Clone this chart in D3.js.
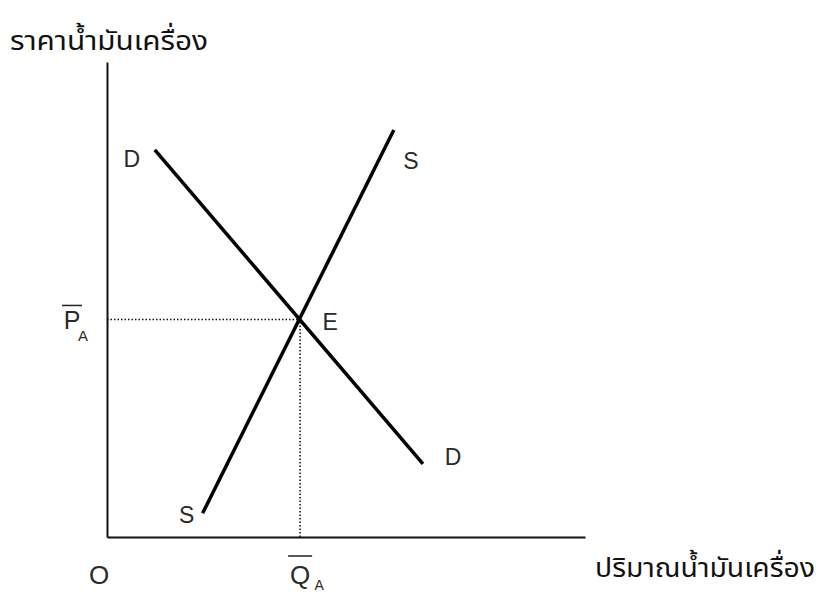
<!DOCTYPE html>
<html lang="th">
<head>
  <meta charset="UTF-8">
  <title>อุปสงค์และอุปทานน้ำมันเครื่อง</title>
  <script src="https://d3js.org/d3.v7.min.js"></script>
  <style>
    body {
      margin: 0;
      background: #fff;
    }
    svg text {
      font-family: "Liberation Sans", Arial, sans-serif;
      fill: #2a2a2a;
    }
    .thai {
      font-family: "Noto Sans Thai", "Loma", "Garuda", "Noto Sans", sans-serif;
      fill: #111;
    }
  </style>
</head>
<body>
  <div id="chart"></div>
  <script>
    // curve endpoints in (quantity, price) units
    const demand = [[1.0, 8.15], [6.61, 1.54]];
    const supply = [[2.0, 0.5], [6.0, 8.57]];
    const equilibrium = [4.04, 4.58];

    const curveLabels = [
      { text: "D", at: [1.0, 8.15], dx: -23, dy: 17 },
      { text: "D", at: [6.61, 1.54], dx: 30, dy: 1 },
      { text: "S", at: [2.0, 0.5], dx: -16, dy: 10 },
      { text: "S", at: [6.0, 8.57], dx: 17, dy: 39 },
      { text: "E", at: equilibrium, dx: 30, dy: 11 }
    ];

    const yTitle = "ราคาน้ำมันเครื่อง";
    const xTitle = "ปริมาณน้ำมันเครื่อง";

    const width = 826;
    const height = 592;
    const margin = { top: 62, right: 241, bottom: 55, left: 107 };

    const x = d3.scaleLinear()
      .domain([0, 10])
      .range([margin.left, width - margin.right]);
    const y = d3.scaleLinear()
      .domain([0, 10])
      .range([height - margin.bottom, margin.top]);

    const svg = d3.select("#chart")
      .append("svg")
      .attr("width", width)
      .attr("height", height);

    // axes: plain lines, no ticks
    svg.append("g")
      .attr("transform", `translate(0,${y(0)})`)
      .call(d3.axisBottom(x).tickValues([]).tickSizeOuter(0))
      .select(".domain")
      .attr("stroke", "#111")
      .attr("stroke-width", 2);

    svg.append("g")
      .attr("transform", `translate(${x(0)},0)`)
      .call(d3.axisLeft(y).tickValues([]).tickSizeOuter(0))
      .select(".domain")
      .attr("stroke", "#111")
      .attr("stroke-width", 2);

    // guide lines to the equilibrium
    const guides = [
      [[0, equilibrium[1]], equilibrium],
      [[equilibrium[0], 0], equilibrium]
    ];
    const line = d3.line().x(d => x(d[0])).y(d => y(d[1]));

    svg.append("g")
      .selectAll("path")
      .data(guides)
      .join("path")
        .attr("d", line)
        .attr("fill", "none")
        .attr("stroke", "#111")
        .attr("stroke-width", 1.5)
        .attr("stroke-dasharray", "1.5,2");

    svg.append("g")
      .selectAll("path")
      .data([demand, supply])
      .join("path")
        .attr("d", line)
        .attr("fill", "none")
        .attr("stroke", "#000")
        .attr("stroke-width", 3.5);

    svg.append("g")
      .attr("font-size", 23)
      .selectAll("text")
      .data(curveLabels)
      .join("text")
        .attr("x", d => x(d.at[0]) + d.dx)
        .attr("y", d => y(d.at[1]) + d.dy)
        .attr("text-anchor", "middle")
        .text(d => d.text);

    // origin
    svg.append("text")
      .attr("x", x(0) - 8)
      .attr("y", y(0) + 47)
      .attr("font-size", 26)
      .attr("text-anchor", "middle")
      .text("O");

    // P-bar with subscript A
    const pLab = svg.append("g")
      .attr("transform", `translate(${x(0) - 35},${y(equilibrium[1]) + 10})`);
    pLab.append("text")
      .attr("font-size", 25)
      .attr("text-anchor", "middle")
      .text("P");
    pLab.append("line")
      .attr("x1", -10).attr("x2", 10)
      .attr("y1", -24).attr("y2", -24)
      .attr("stroke", "#222").attr("stroke-width", 1.5);
    pLab.append("text")
      .attr("x", 11).attr("y", 12)
      .attr("font-size", 15)
      .attr("text-anchor", "middle")
      .text("A");

    // Q-bar with subscript A
    const qLab = svg.append("g")
      .attr("transform", `translate(${x(equilibrium[0])},${y(0) + 47})`);
    qLab.append("text")
      .attr("font-size", 26)
      .attr("text-anchor", "middle")
      .text("Q");
    qLab.append("line")
      .attr("x1", -12).attr("x2", 12)
      .attr("y1", -28).attr("y2", -28)
      .attr("stroke", "#222").attr("stroke-width", 1.5);
    qLab.append("text")
      .attr("x", 19).attr("y", 6)
      .attr("font-size", 14)
      .attr("text-anchor", "middle")
      .text("A");

    // axis titles
    svg.append("text")
      .attr("class", "thai")
      .attr("x", 10)
      .attr("y", 50)
      .attr("font-size", 27)
      .attr("textLength", 198)
      .attr("lengthAdjust", "spacingAndGlyphs")
      .text(yTitle);

    svg.append("text")
      .attr("class", "thai")
      .attr("x", 595)
      .attr("y", 577)
      .attr("font-size", 27)
      .attr("textLength", 220)
      .attr("lengthAdjust", "spacingAndGlyphs")
      .text(xTitle);
  </script>
</body>
</html>
